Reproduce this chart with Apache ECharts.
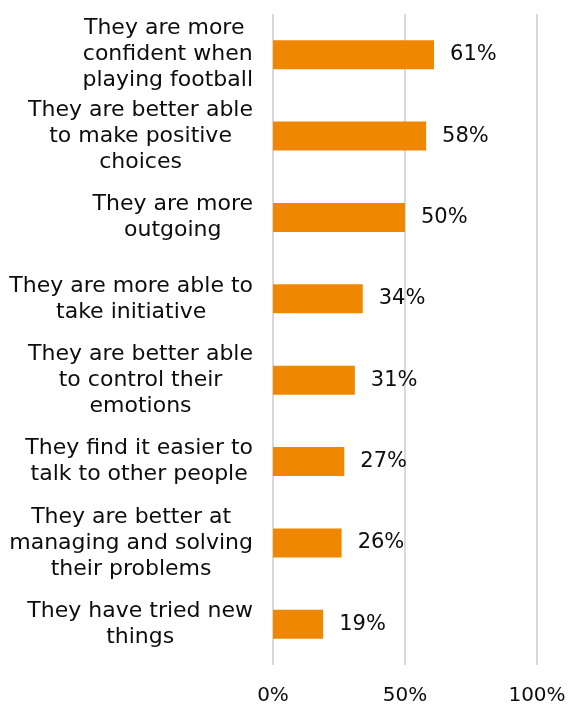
<!DOCTYPE html>
<html>
<head>
<meta charset="utf-8">
<script src="https://cdn.jsdelivr.net/npm/echarts@6/dist/echarts.min.js"></script>
<style>html,body{margin:0;padding:0;background:#fff}#c{width:573px;height:706px}</style>
</head>
<body>
<div id="c"></div>
<script>
const categories = [
  "They are more \nconfident when\nplaying football",
  "They are better able\nto make positive\nchoices",
  "They are more\noutgoing",
  "They are more able to\ntake initiative",
  "They are better able\nto control their\nemotions",
  "They find it easier to\ntalk to other people",
  "They are better at\nmanaging and solving\ntheir problems",
  "They have tried new\nthings"
];
const values = [61, 58, 50, 34, 31, 27, 26, 19];
const xTicks = [0, 50, 100];

const FONT = "DejaVu Sans";
const TXT = '#0d0d0d';
const chart = echarts.init(document.getElementById('c'), null, {renderer: 'canvas'});
chart.setOption({
  animation: false,
  backgroundColor: '#fff',
  grid: {left: 273, right: 36, top: 14, bottom: 41, containLabel: false},
  xAxis: {
    type: 'value', min: 0, max: 100, interval: 50,
    axisLine: {show: false}, axisTick: {show: false},
    splitLine: {show: true, lineStyle: {color: '#D9D9D9', width: 2}},
    axisLabel: {margin: 21, fontFamily: FONT, fontSize: 20, color: TXT,
      formatter: v => xTicks.includes(v) ? v + '%' : ''}
  },
  yAxis: {
    type: 'category', inverse: true, data: categories,
    axisLine: {show: false}, axisTick: {show: false},
    axisLabel: {
      margin: 20, align: 'right', fontFamily: FONT, fontSize: 22, color: TXT,
      lineHeight: 26,
      formatter: v => v.split('\n').map(l => '{c|' + l + '}').join('\n'),
      rich: {c: {align: 'center', fontFamily: FONT, fontSize: 22, lineHeight: 26, color: TXT}}
    }
  },
  series: [{
    type: 'bar', data: values, barWidth: 29,
    itemStyle: {color: '#EF8700'},
    label: {show: true, position: 'right', distance: 16, fontFamily: FONT, fontSize: 21,
      color: TXT, formatter: p => p.value + '%'}
  }]
});
</script>
</body>
</html>
